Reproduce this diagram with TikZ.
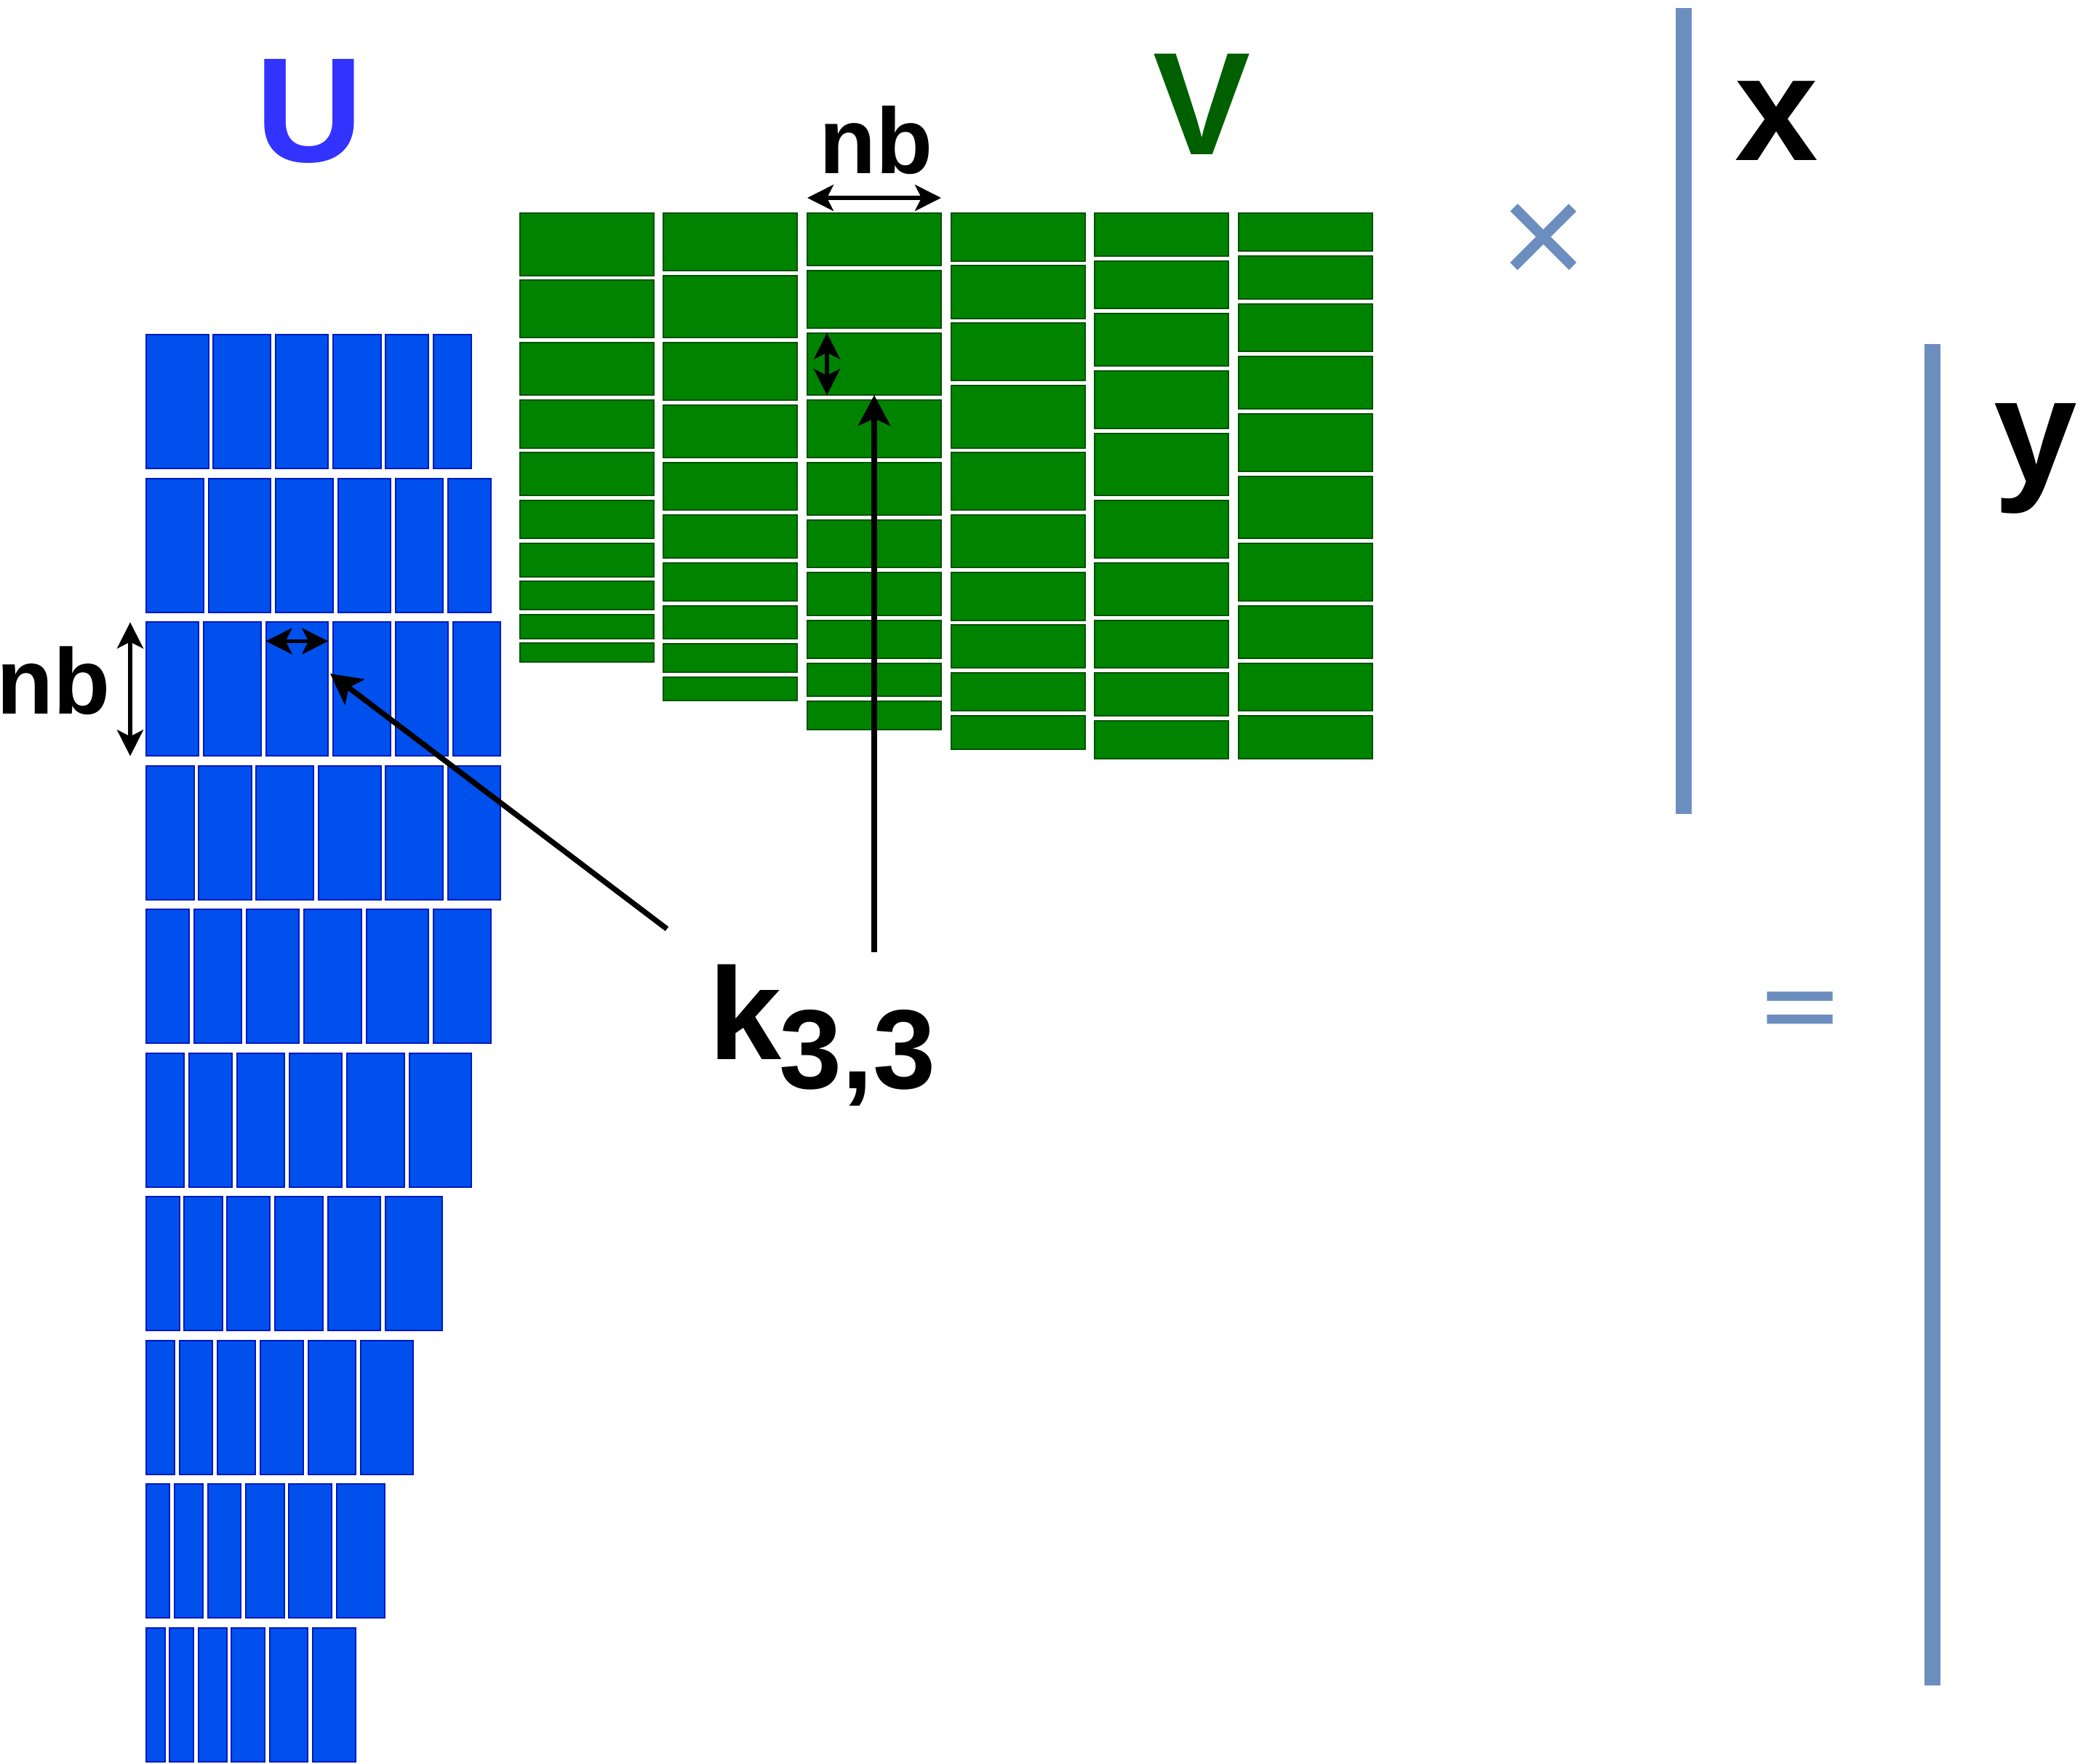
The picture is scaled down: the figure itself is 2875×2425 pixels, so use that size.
\documentclass[tikz,border=0pt]{standalone}
\usepackage{fontspec}
\setmainfont{Liberation Sans}
\usetikzlibrary{arrows.meta}
\definecolor{ufill}{HTML}{0050EE}
\definecolor{uline}{HTML}{0018C0}
\definecolor{vfill}{HTML}{008400}
\definecolor{vline}{HTML}{005200}
\definecolor{ulabel}{HTML}{3333FF}
\definecolor{vlabel}{HTML}{006000}
\definecolor{steel}{HTML}{6C8EBF}
\tikzset{
  blockbase/.style={rectangle, line width=2pt, inner sep=0pt, outer sep=0pt, anchor=north west},
  ublock/.style={blockbase, draw=uline, fill=ufill},
  vblock/.style={blockbase, draw=vline, fill=vfill},
  dimarrow/.style={line width=5.5pt, {Stealth[length=36pt,width=36pt,inset=9pt]}-{Stealth[length=36pt,width=36pt,inset=9pt]}},
  karrow/.style={line width=7.5pt, -{Stealth[length=42pt,width=44pt,inset=10pt]}},
  vecline/.style={draw=steel, line width=22pt},
  bigbold/.style={inner sep=0pt, anchor=base, font=\bfseries\fontsize{205}{205}\selectfont},
  nblabel/.style={inner sep=0pt, anchor=base, font=\bfseries\fontsize{128}{128}\selectfont},
  oplabel/.style={inner sep=0pt, anchor=base, text=steel}
}
\begin{document}
\begin{tikzpicture}[x=1pt,y=-1pt]
\useasboundingbox (0,0) rectangle (2875,2425);

% U blocks: 10 rows x 6 columns, widths shrink with |i-j|
\foreach \i in {1,...,10}{
  \gdef\ux{200}
  \foreach \j in {1,...,6}{
    \pgfmathsetmacro{\w}{87.5-6.65*abs(\i-\j)}
    \pgfmathsetmacro{\wm}{\w-2}
    \pgfmathsetmacro{\yt}{459.4+(\i-1)*197.5}
    \node[ublock, minimum width=\wm pt, minimum height=184pt] (u-\i-\j) at (\ux+1,\yt+1) {};
    \pgfmathsetmacro{\nx}{\ux+\w+4.8}
    \xdef\ux{\nx}
  }
}

% V blocks: 6 columns x 10 rows, heights shrink with |i-j|
\foreach \j in {1,...,6}{
  \gdef\vy{292}
  \pgfmathsetmacro{\xl}{713.8+(\j-1)*197.6}
  \foreach \i in {1,...,10}{
    \pgfmathsetmacro{\h}{87.5-6.65*abs(\i-\j)}
    \pgfmathsetmacro{\hm}{\h-2}
    \node[vblock, minimum width=184pt, minimum height=\hm pt] (v-\i-\j) at (\xl+1,\vy+1) {};
    \pgfmathsetmacro{\ny}{\vy+\h+4.8}
    \xdef\vy{\ny}
  }
}

% labels
\node[bigbold, text=ulabel] (labU) at (425.5,222.7) {U};
\node[bigbold, text=vlabel, font=\bfseries\fontsize{201}{201}\selectfont] (labV) at (1652.5,212.7) {V};
\node[nblabel] (nbtop) at (1204.5,238.3) {nb};
\node[nblabel] (nbleft) at (73.5,981.7) {nb};
\node[bigbold, font=\bfseries\fontsize{206}{206}\selectfont] (labx) at (2443,220.4) {x};
\node[bigbold, font=\bfseries\fontsize{206}{206}\selectfont] (laby) at (2799,663) {y};
\node[inner sep=0pt, anchor=base west, font=\bfseries\fontsize{180}{180}\selectfont] (k33) at (974,1456.7)
  {k\kern-3pt\raisebox{-40pt}{\fontsize{155}{155}\selectfont 3,3}};
\node[oplabel, font=\fontsize{205}{205}\selectfont] (times) at (2122,394) {×};
\node[oplabel, font=\bfseries\fontsize{180}{180}\selectfont] (equals) at (2475,1424) {\scalebox{1}[0.65]{=}};

% vectors x and y
\coordinate (xtop) at (2315,11);
\coordinate (xbot) at (2315,1119);
\coordinate (ytop) at (2657,473);
\coordinate (ybot) at (2657,2317);
\draw[vecline] (xtop) -- (xbot);
\draw[vecline] (ytop) -- (ybot);

% dimension arrows
\draw[dimarrow] ([yshift=21pt]v-1-3.north west) -- ([yshift=21pt]v-1-3.north east);
\draw[dimarrow] ([xshift=-22pt]u-3-1.north west) -- ([xshift=-22pt]u-3-1.south west);
\draw[dimarrow] ([yshift=-26pt]u-3-3.north west) -- ([yshift=-26pt]u-3-3.north east);
\draw[dimarrow] ([xshift=27pt]v-3-3.north west) -- ([xshift=27pt]v-3-3.south west);

% k_{3,3} pointers
\coordinate (kstartV) at (1202,1309);
\coordinate (kstartU) at (917,1277);
\coordinate (ktipU) at (454,926);
\draw[karrow] (kstartV) -- (v-3-3.south);
\draw[karrow] (kstartU) -- (ktipU);
\end{tikzpicture}
\end{document}
